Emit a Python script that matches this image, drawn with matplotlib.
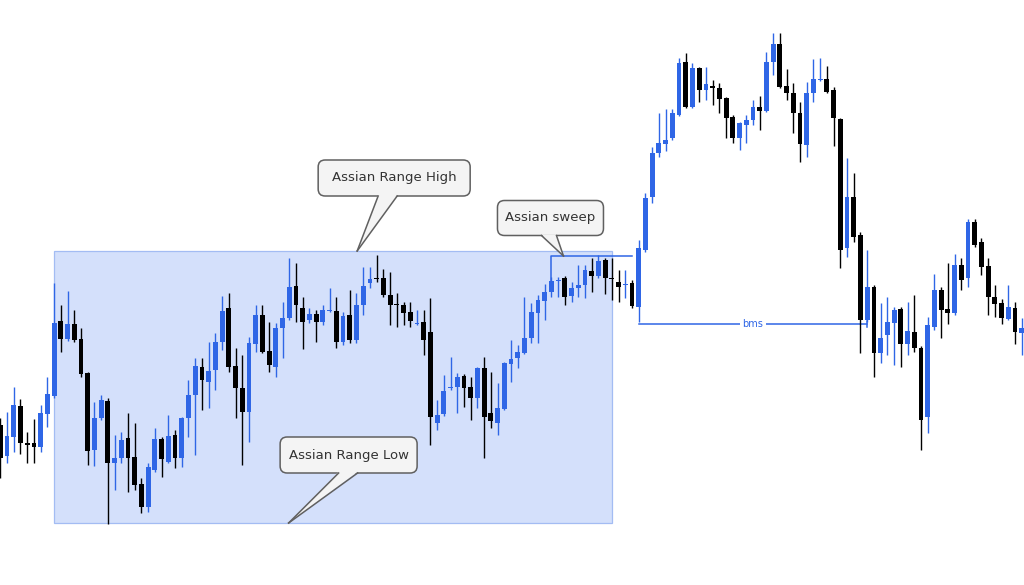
import matplotlib
matplotlib.use("Agg")
import matplotlib.pyplot as plt
import numpy as np
from matplotlib.patches import Rectangle, FancyBboxPatch, Polygon
from matplotlib.transforms import IdentityTransform

# OHLC, one candle per bar (price units are arbitrary)
opens = [175, 144, 163, 194, 157, 157, 153, 186, 204, 279,
         261, 276, 261, 227, 150, 182, 199, 137, 142, 162,
         143, 116, 93, 130, 161, 138, 165, 142, 182, 205,
         233, 218, 230, 258, 292, 234, 212, 188, 256, 285,
         249, 233, 272, 282, 314, 292, 280, 286, 278, 289,
         289, 258, 285, 260, 295, 317, 322, 322, 305, 296,
         295, 288, 276, 278, 268, 177, 186, 212, 213, 224,
         213, 202, 232, 187, 177, 191, 236, 242, 247, 262,
         287, 299, 308, 319, 322, 304, 312, 315, 329, 324,
         340, 322, 318, 315, 317, 293, 350, 403, 447, 456,
         462, 485, 538, 493, 532, 510, 514, 512, 502, 483,
         462, 475, 480, 493, 489, 538, 556, 514, 507, 487,
         455, 507, 520, 521, 510, 481, 352, 403, 365, 280,
         313, 247, 265, 277, 291, 256, 268, 252, 183, 273,
         310, 291, 287, 335, 322, 378, 358, 334, 303, 297,
         281, 292, 267]
highs = [182, 188, 213, 201, 168, 181, 195, 223, 317, 295,
         309, 290, 272, 228, 198, 205, 202, 165, 168, 187,
         177, 122, 137, 172, 163, 185, 170, 183, 220, 242,
         242, 258, 267, 304, 307, 252, 245, 263, 295, 295,
         278, 277, 298, 342, 337, 303, 292, 290, 295, 312,
         303, 288, 310, 307, 333, 333, 345, 331, 328, 307,
         298, 298, 290, 290, 302, 200, 225, 243, 227, 226,
         223, 233, 243, 228, 217, 238, 260, 255, 303, 297,
         305, 316, 323, 323, 324, 318, 335, 335, 342, 345,
         342, 342, 330, 330, 320, 360, 407, 453, 487, 491,
         491, 542, 547, 537, 533, 533, 520, 517, 503, 485,
         478, 485, 500, 504, 548, 567, 567, 531, 517, 498,
         518, 541, 542, 534, 513, 482, 442, 427, 368, 350,
         315, 297, 303, 293, 293, 298, 305, 254, 283, 326,
         313, 337, 346, 342, 381, 381, 362, 342, 315, 301,
         315, 298, 282]
lows = [122, 137, 148, 146, 137, 137, 148, 173, 202, 248,
        259, 258, 223, 135, 134, 180, 76, 110, 137, 108,
        110, 87, 88, 128, 123, 137, 132, 133, 163, 145,
        190, 192, 210, 250, 228, 182, 135, 158, 248, 247,
        228, 223, 242, 280, 278, 251, 277, 258, 275, 288,
        252, 255, 257, 257, 285, 312, 318, 303, 275, 273,
        275, 273, 275, 245, 155, 170, 184, 210, 187, 193,
        180, 192, 142, 172, 165, 190, 218, 232, 246, 257,
        257, 280, 303, 303, 295, 298, 303, 302, 308, 322,
        306, 300, 298, 302, 292, 278, 348, 397, 443, 449,
        460, 484, 492, 492, 498, 500, 495, 487, 462, 457,
        450, 457, 475, 470, 488, 525, 512, 500, 467, 438,
        443, 498, 519, 507, 454, 332, 343, 358, 247, 278,
        223, 237, 245, 235, 233, 245, 248, 150, 167, 270,
        262, 276, 285, 310, 313, 353, 325, 285, 283, 276,
        280, 256, 245]
closes = [142, 164, 195, 157, 155, 153, 187, 206, 277, 261,
          276, 260, 226, 149, 182, 200, 137, 142, 160, 142,
          115, 93, 133, 161, 141, 164, 142, 182, 205, 234,
          220, 229, 258, 289, 233, 212, 188, 257, 285, 248,
          235, 272, 282, 313, 295, 278, 286, 278, 290, 290,
          258, 284, 260, 295, 314, 321, 321, 305, 295, 295,
          287, 279, 277, 260, 183, 185, 209, 213, 223, 212,
          202, 232, 183, 179, 192, 237, 241, 248, 262, 288,
          300, 308, 319, 320, 303, 312, 315, 330, 324, 339,
          322, 321, 313, 316, 294, 352, 402, 447, 457, 460,
          487, 537, 493, 532, 510, 516, 512, 501, 482, 462,
          477, 480, 493, 489, 538, 556, 513, 507, 487, 456,
          507, 521, 521, 508, 482, 350, 403, 363, 280, 313,
          247, 262, 278, 290, 256, 269, 252, 180, 275, 310,
          290, 287, 335, 320, 378, 355, 333, 303, 296, 282,
          293, 268, 272]

# asian session box and levels
box_start, box_end = 8, 91
range_high, range_low = 349, 77
sweep_from, sweep_to = 82, 94
sweep_level, sweep_base = 344, 318
bms_from, bms_to = 95, 129
bms_level = 276

BLUE = '#2f66e6'
BOX_FACE = '#d4e0fb'
BOX_EDGE = '#a3bcf3'
CALL_FACE = '#f4f4f4'
CALL_EDGE = '#606060'

fig = plt.figure(figsize=(10.24, 5.85), dpi=100)
ax = fig.add_axes([0, 0, 1, 1])
ax.axis('off')
n = len(opens)
ax.set_xlim(-0.05, 1024 / 6.72 - 0.05)
ax.set_ylim(15, 600)

o = np.array(opens, float)
h = np.array(highs, float)
l = np.array(lows, float)
c = np.array(closes, float)
idx = np.arange(n)
colors = np.where(c >= o, BLUE, 'black')

ax.add_patch(Rectangle((box_start, range_low), box_end - box_start, range_high - range_low,
                       facecolor=BOX_FACE, edgecolor=BOX_EDGE, lw=0.9, zorder=1))

ax.vlines(idx, l, h, colors=colors, lw=1.0, zorder=3)
body_low = np.minimum(o, c)
body_h = np.maximum(np.abs(c - o), 1.5)
ax.bar(idx, body_h, bottom=body_low, width=0.72, color=colors, linewidth=0, zorder=4)

# sweep bracket
ax.plot([sweep_from, sweep_from, sweep_to], [sweep_base, sweep_level, sweep_level],
        color=BLUE, lw=1.1, zorder=2)

# break of market structure
ax.plot([bms_from, bms_to], [bms_level, bms_level], color=BLUE, lw=1.1, zorder=2)
ax.plot([bms_to, bms_to], [bms_level - 3, bms_level + 3], color=BLUE, lw=1.1, zorder=2)
ax.text((bms_from + bms_to) / 2, bms_level, 'bms', color=BLUE, fontsize=7,
        ha='center', va='center', zorder=5,
        bbox=dict(facecolor='white', edgecolor='none', pad=2))


def callout(tip, text, dx, dy, w, hgt, base_l, base_r):
    tx, ty = ax.transData.transform(tip)
    cx, cy = tx + dx, ty + dy
    ident = IdentityTransform()
    ax.add_patch(FancyBboxPatch((cx - w / 2, cy - hgt / 2), w, hgt,
                                boxstyle='round,pad=0,rounding_size=7',
                                transform=ident, facecolor=CALL_FACE,
                                edgecolor=CALL_EDGE, lw=1.1, zorder=6))
    by = cy - hgt / 2
    ax.add_patch(Polygon([(cx + base_l, by + 1.2), (cx + base_r, by + 1.2), (tx, ty)],
                         closed=True, transform=ident, facecolor=CALL_FACE,
                         edgecolor='none', zorder=7))
    for bx in (base_l, base_r):
        ax.plot([cx + bx, tx], [by, ty], color=CALL_EDGE, lw=1.1,
                transform=ident, zorder=8)
    ax.text(cx, cy, text, transform=ident, ha='center', va='center',
            fontsize=9.5, color='#333333', zorder=9)


callout((53.1, range_high), 'Assian Range High', 37, 73, 152, 36, -16, 3)
callout((83.8, sweep_level), 'Assian sweep', -13, 38, 106, 35, -9, 6)
callout((42.9, range_low), 'Assian Range Low', 60, 68, 137, 36, -10, 9)

fig.savefig('out.png', dpi=100)
